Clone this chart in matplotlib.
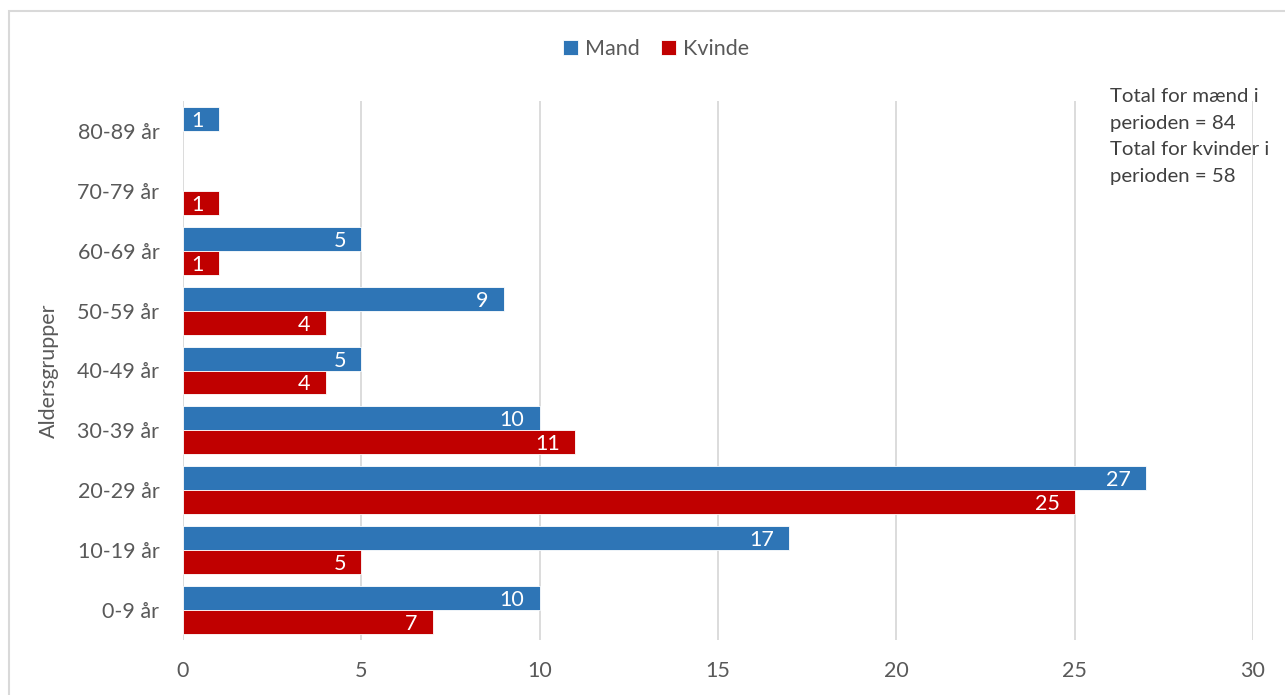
import matplotlib
matplotlib.use("Agg")
import matplotlib.pyplot as plt
from matplotlib.patches import Rectangle
import numpy as np

plt.rcParams['font.family'] = ['Lato', 'DejaVu Sans']

categories = ["0-9 år", "10-19 år", "20-29 år", "30-39 år", "40-49 år",
              "50-59 år", "60-69 år", "70-79 år", "80-89 år"]
mand = [10, 17, 27, 10, 5, 9, 5, 0, 1]
kvinde = [7, 5, 25, 11, 4, 4, 1, 1, 0]
series_names = ["Mand", "Kvinde"]
xticks = [0, 5, 10, 15, 20, 25, 30]
note = "Total for mænd i\nperioden = 84\nTotal for kvinder i\nperioden = 58"

BLUE = "#2E75B6"
RED = "#C00000"
GRAY = "#595959"
GRID = "#D9D9D9"
FS = 15.5

W, H = 1285, 695
fig = plt.figure(figsize=(W / 100, H / 100), dpi=100)
ax = fig.add_axes([183 / W, (H - 640) / H, (1253 - 183) / W, (640 - 101) / H])

y = np.arange(len(categories))
bh = 0.4
b1 = ax.barh(y + bh / 2, mand, height=bh, color=BLUE, edgecolor="white", linewidth=0.6, label=series_names[0], zorder=3)
b2 = ax.barh(y - bh / 2, kvinde, height=bh, color=RED, edgecolor="white", linewidth=0.6, label=series_names[1], zorder=3)

for bars, vals in ((b1, mand), (b2, kvinde)):
    for rect, v in zip(bars, vals):
        if v == 0:
            rect.set_linewidth(0)
            continue
        ax.annotate(str(v), xy=(v, rect.get_y() + rect.get_height() / 2),
                    xytext=(-11, 0), textcoords="offset points",
                    ha="right", va="center_baseline", color="white", fontsize=FS, zorder=4)

ax.set_xlim(0, 30)
ax.set_ylim(-0.5, len(categories) - 0.5)
ax.set_xticks(xticks)
ax.set_xticklabels([str(t) for t in xticks])
ax.set_yticks(y)
ax.set_yticklabels(categories)
ax.tick_params(axis="both", length=0, colors=GRAY, labelsize=FS)
ax.tick_params(axis="x", pad=15)
ax.tick_params(axis="y", pad=17)
ax.grid(axis="x", color=GRID, linewidth=1.3, zorder=0)
for s in ax.spines.values():
    s.set_visible(False)
ax.set_ylabel("Aldersgrupper", color=GRAY, fontsize=FS, labelpad=13)

leg = fig.legend(handles=[b1, b2], labels=series_names, loc="center",
                 bbox_to_anchor=(656 / W, (H - 49) / H), ncol=2, frameon=False,
                 fontsize=FS, handlelength=0.7, handleheight=0.7,
                 handletextpad=0.3, columnspacing=1.0)
for t in leg.get_texts():
    t.set_color(GRAY)

fig.text(1110 / W, (H - 88) / H, note, ha="left", va="top", color="#404040",
         fontsize=14.7, linespacing=1.68)

fig.patches.append(Rectangle((9 / W, -0.1), 1.2, (H - 11) / H + 0.1,
                             transform=fig.transFigure, fill=False,
                             edgecolor="#D9D9D9", linewidth=1.5))

fig.savefig("out.png", dpi=100, facecolor="white")
